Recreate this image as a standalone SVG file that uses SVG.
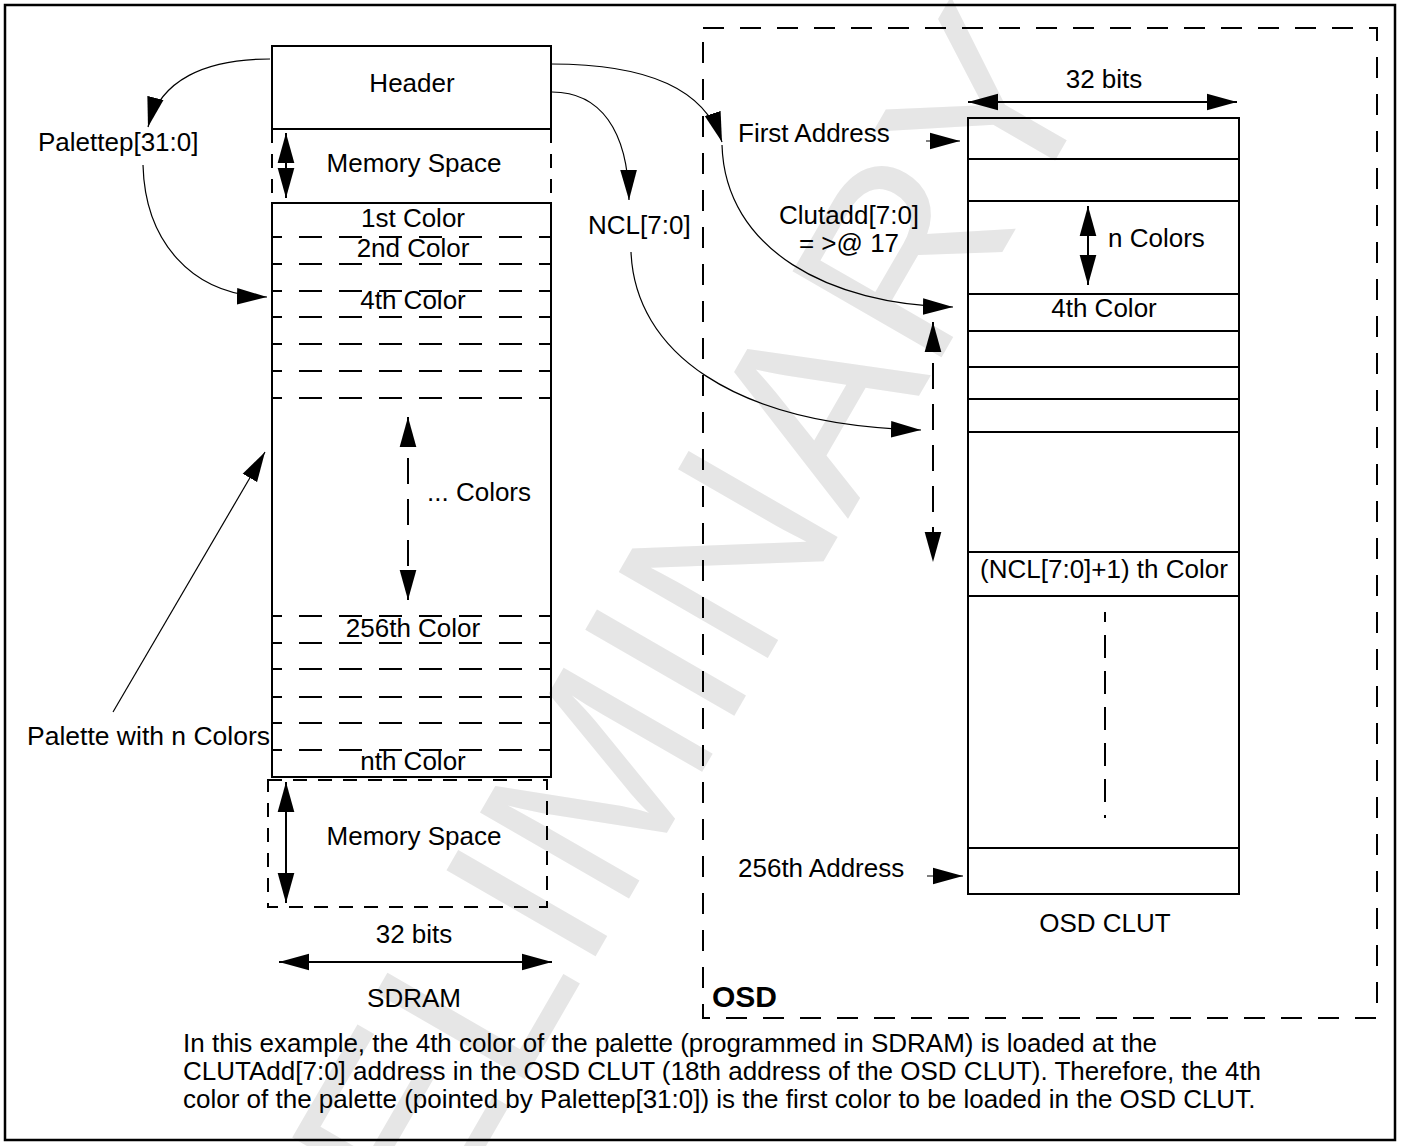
<svg xmlns="http://www.w3.org/2000/svg" width="1401" height="1146" viewBox="0 0 1401 1146">
<style>
text { font-family: "Liberation Sans", Arial, Helvetica, sans-serif; font-size: 26px; fill: #000; }
.c { text-anchor: middle; }
.box { fill: none; stroke: #000; stroke-width: 2; }
.dl { fill: none; stroke: #000; stroke-width: 2; stroke-dasharray: 23 17; stroke-dashoffset: 13; }
.ds { fill: none; stroke: #000; stroke-width: 2; stroke-dasharray: 14 11; }
.osd { fill: none; stroke: #000; stroke-width: 2; stroke-dasharray: 21 16; }
.vd { fill: none; stroke: #000; stroke-width: 2; stroke-dasharray: 26 15; }
.thin { fill: none; stroke: #000; stroke-width: 1.2; }
.shaft { fill: none; stroke: #000; stroke-width: 2; }
.wm { font-size: 250px; fill: #e6e6e6; text-anchor: middle; }
</style>
<defs>
<marker id="ah" markerUnits="userSpaceOnUse" markerWidth="30" markerHeight="18" refX="27" refY="7.5" orient="auto-start-reverse" viewBox="0 0 27 15">
<path d="M0,0 L27,7.5 L0,15 Z" fill="#000"/>
</marker>
</defs>
<rect x="0" y="0" width="1401" height="1146" fill="#fff"/>
<g id="watermark">
<text class="wm" transform="translate(680,810) rotate(-60)">PRELIMINARY</text>
</g>
<rect id="frame" x="5" y="5" width="1390" height="1135" fill="none" stroke="#000" stroke-width="2.5"/>

<g id="sdram">
<g id="header">
<rect class="box" x="272" y="46" width="279" height="83"/>
<text class="c" x="412" y="92">Header</text>
</g>
<g id="mem-top">
<line class="ds" x1="272" y1="129" x2="272" y2="203"/>
<line class="ds" x1="551" y1="129" x2="551" y2="203"/>
<line class="shaft" x1="286" y1="133" x2="286" y2="198" marker-start="url(#ah)" marker-end="url(#ah)"/>
<text class="c" x="414" y="172">Memory Space</text>
</g>
<g id="palette">
<rect class="box" x="272" y="203" width="279" height="574"/>
<line class="dl" x1="272" y1="237" x2="551" y2="237"/>
<line class="dl" x1="272" y1="264" x2="551" y2="264"/>
<line class="dl" x1="272" y1="291" x2="551" y2="291"/>
<line class="dl" x1="272" y1="317" x2="551" y2="317"/>
<line class="dl" x1="272" y1="344" x2="551" y2="344"/>
<line class="dl" x1="272" y1="371" x2="551" y2="371"/>
<line class="dl" x1="272" y1="398" x2="551" y2="398"/>
<line class="dl" x1="272" y1="616" x2="551" y2="616"/>
<line class="dl" x1="272" y1="643" x2="551" y2="643"/>
<line class="dl" x1="272" y1="669" x2="551" y2="669"/>
<line class="dl" x1="272" y1="697" x2="551" y2="697"/>
<line class="dl" x1="272" y1="723" x2="551" y2="723"/>
<line class="dl" x1="272" y1="750" x2="551" y2="750"/>
<text class="c" x="413" y="227">1st Color</text>
<text class="c" x="413" y="257">2nd Color</text>
<text class="c" x="413" y="309">4th Color</text>
<text class="c" x="413" y="637">256th Color</text>
<text class="c" x="413" y="770">nth Color</text>
<line class="vd" x1="408" y1="417" x2="408" y2="600" marker-start="url(#ah)" marker-end="url(#ah)"/>
<text x="427" y="501">... Colors</text>
</g>
<g id="mem-bottom">
<rect class="ds" x="268" y="780" width="279" height="127"/>
<line class="shaft" x1="286" y1="782" x2="286" y2="903" marker-start="url(#ah)" marker-end="url(#ah)"/>
<text class="c" x="414" y="845">Memory Space</text>
</g>
<g id="sdram-width">
<text class="c" x="414" y="943">32 bits</text>
<line class="shaft" x1="279" y1="962" x2="552" y2="962" marker-start="url(#ah)" marker-end="url(#ah)"/>
<text class="c" x="414" y="1007">SDRAM</text>
</g>
</g>

<g id="labels">
<text x="38" y="151">Palettep[31:0]</text>
<text x="27" y="745" style="font-size:26.5px">Palette with n Colors</text>
<text x="588" y="234">NCL[7:0]</text>
<text x="738" y="142">First Address</text>
<text class="c" x="849" y="224">Clutadd[7:0]</text>
<text class="c" x="849" y="252">= &gt;@ 17</text>
<text x="738" y="877">256th Address</text>
</g>

<g id="osd">
<rect class="osd" x="703" y="28" width="674" height="990"/>
<text x="712" y="1007" style="font-weight:bold;font-size:30px">OSD</text>
</g>

<g id="osd-clut">
<rect class="box" x="968" y="118" width="271" height="776"/>
<line class="box" x1="968" y1="159" x2="1239" y2="159"/>
<line class="box" x1="968" y1="201" x2="1239" y2="201"/>
<line class="box" x1="968" y1="294" x2="1239" y2="294"/>
<line class="box" x1="968" y1="331" x2="1239" y2="331"/>
<line class="box" x1="968" y1="367" x2="1239" y2="367"/>
<line class="box" x1="968" y1="399" x2="1239" y2="399"/>
<line class="box" x1="968" y1="432" x2="1239" y2="432"/>
<line class="box" x1="968" y1="552" x2="1239" y2="552"/>
<line class="box" x1="968" y1="596" x2="1239" y2="596"/>
<line class="box" x1="968" y1="848" x2="1239" y2="848"/>
<text class="c" x="1104" y="88">32 bits</text>
<line class="shaft" x1="968" y1="102" x2="1237" y2="102" marker-start="url(#ah)" marker-end="url(#ah)"/>
<line class="shaft" x1="1088" y1="206" x2="1088" y2="285" marker-start="url(#ah)" marker-end="url(#ah)"/>
<text x="1108" y="247">n Colors</text>
<text class="c" x="1104" y="317">4th Color</text>
<text class="c" x="1104" y="578">(NCL[7:0]+1) th Color</text>
<line class="box" x1="1105" y1="612" x2="1105" y2="818" style="stroke-dasharray:23 13;stroke-dashoffset:13"/>
<text class="c" x="1105" y="932">OSD CLUT</text>
</g>

<g id="connectors">
<path class="thin" d="M270,59 C205,59 160,80 148,127" marker-end="url(#ah)"/>
<path class="thin" d="M143,165 C145,240 190,295 267,297" marker-end="url(#ah)"/>
<path class="thin" d="M551,64 C650,64 705,90 722,142" marker-end="url(#ah)"/>
<path class="thin" d="M722,145 C725,250 830,305 953,307" marker-end="url(#ah)"/>
<path class="thin" d="M552,92 C600,92 628,130 629,200" marker-end="url(#ah)"/>
<path class="thin" d="M631,252 C635,350 730,425 921,430" marker-end="url(#ah)"/>
<path class="thin" d="M113,712 L265,452" marker-end="url(#ah)"/>
<line class="thin" x1="926" y1="141" x2="960" y2="141" marker-end="url(#ah)"/>
<line class="thin" x1="927" y1="876" x2="963" y2="876" marker-end="url(#ah)"/>
<line class="vd" x1="933" y1="322" x2="933" y2="562" marker-start="url(#ah)" marker-end="url(#ah)"/>
</g>

<g id="caption">
<text x="183" y="1052">In this example, the 4th color of the palette (programmed in SDRAM) is loaded at the</text>
<text x="183" y="1080">CLUTAdd[7:0] address in the OSD CLUT (18th address of the OSD CLUT). Therefore, the 4th</text>
<text x="183" y="1108">color of the palette (pointed by Palettep[31:0]) is the first color to be loaded in the OSD CLUT.</text>
</g>
</svg>
